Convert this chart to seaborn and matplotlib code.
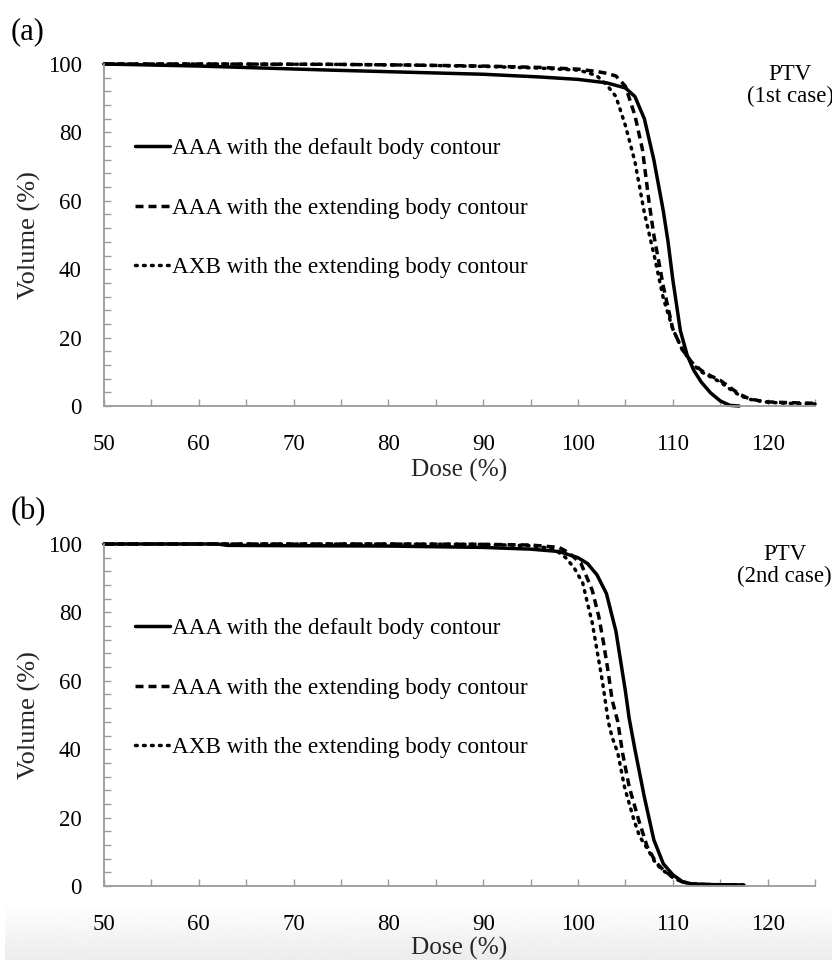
import numpy as np
import pandas as pd
import seaborn as sns
import matplotlib
matplotlib.use("Agg")
import matplotlib.pyplot as plt
from matplotlib.ticker import MultipleLocator

# ---------------- data ----------------
labels = ["AAA with the default body contour",
          "AAA with the extending body contour",
          "AXB with the extending body contour"]

# Panel (a) PTV 1st case
a_def_dose = [50, 55, 60, 67, 74, 82, 90, 96, 100, 103, 105, 106, 107, 108, 109, 109.5, 110, 110.8, 111.5, 112.2, 113, 114, 115, 116, 117]
a_def_vol = [100, 99.7, 99.4, 98.8, 98.2, 97.6, 97.0, 96.2, 95.5, 94.5, 93.0, 90.5, 84.0, 72.0, 57.0, 48.0, 37.0, 22.0, 15.0, 10.5, 7.0, 3.8, 1.5, 0.2, 0.0]

a_ext_dose = [50, 60, 74, 82, 90, 96, 100, 102, 103, 104, 105, 106, 106.8, 107.5, 108, 109, 110, 111, 112, 113, 114, 115, 116, 117, 118, 119, 120, 122, 125]
a_ext_vol = [100, 100, 99.9, 99.7, 99.4, 99.0, 98.5, 97.8, 97.3, 96.5, 93.5, 85.0, 75.0, 59.5, 50.0, 35.0, 22.5, 16.5, 12.8, 10.4, 8.8, 7.5, 5.5, 3.5, 2.2, 1.6, 1.2, 1.0, 0.8]

a_axb_dose = [50, 60, 74, 82, 90, 96, 100, 101, 102, 103, 104, 105, 106, 107, 107.7, 108, 109, 110, 111, 112, 113, 114, 115, 116, 117, 118, 120, 122, 125]
a_axb_vol = [100, 100, 99.9, 99.7, 99.3, 98.8, 98.2, 97.5, 96.5, 94.0, 90.5, 82.0, 71.5, 56.5, 48.0, 44.5, 31.5, 22.5, 16.5, 12.5, 10.0, 8.5, 7.0, 5.0, 3.2, 2.0, 1.1, 0.8, 0.6]

# Panel (b) PTV 2nd case
b_def_dose = [50, 62, 63, 70, 80, 90, 95, 98, 100, 101, 102, 103, 104, 105, 105.4, 106, 107, 108, 109, 110, 111, 112, 114, 117.5]
b_def_vol = [100, 100, 99.6, 99.5, 99.4, 99.0, 98.5, 97.8, 96.0, 94.3, 91.0, 85.5, 74.5, 57.0, 49.0, 40.0, 26.0, 13.5, 6.5, 3.3, 1.3, 0.6, 0.4, 0.3]

b_ext_dose = [50, 60, 70, 80, 90, 95, 98, 99, 100.3, 101.5, 102.2, 102.7, 103.2, 103.6, 104.2, 104.7, 105.4, 106.4, 107.3, 108.2, 109, 110, 111, 112, 114, 117.5]
b_ext_vol = [100, 100, 100, 100, 99.9, 99.7, 99.0, 97.5, 94.4, 86.5, 78.7, 71.0, 62.3, 54.4, 48.0, 38.9, 29.0, 19.3, 11.5, 7.0, 4.7, 2.6, 1.2, 0.6, 0.4, 0.3]

b_axb_dose = [50, 60, 70, 80, 90, 95, 97, 98, 98.7, 99.6, 100.5, 101, 101.5, 102, 102.6, 103.2, 103.6, 104.2, 104.9, 105.9, 106.5, 107.3, 108.2, 109, 110, 111, 112, 114, 117.5]
b_axb_vol = [100, 100, 100, 100, 99.9, 99.5, 98.8, 97.5, 96.0, 93.0, 88.6, 82.7, 77.0, 69.0, 59.4, 48.0, 43.5, 38.9, 29.0, 19.3, 14.5, 11.0, 6.6, 4.5, 2.5, 1.2, 0.6, 0.4, 0.3]

x_ticks = [50, 60, 70, 80, 90, 100, 110, 120]
y_ticks = [0, 20, 40, 60, 80, 100]
case_labels = ["PTV\n(1st case)", "PTV\n(2nd case)"]
panel_labels = ["(a)", "(b)"]

# ---------------- style ----------------
sns.set_theme(style="ticks")
plt.rcParams["font.family"] = ["Liberation Serif", "DejaVu Serif"]
plt.rcParams["text.color"] = "black"

fig = plt.figure(figsize=(8.32, 9.6), dpi=100)
fig.patch.set_facecolor("white")

# faint grey gradient strip at the bottom of the screenshot
bg = fig.add_axes([0.006, 0.0, 0.994, 0.056], zorder=-5)
grad = np.linspace(0.995, 0.925, 64)[:, None]
bg.imshow(grad, cmap="gray", vmin=0, vmax=1, aspect="auto", interpolation="bilinear")
bg.set_axis_off()

styles = ["-", (0, (2.3, 1.45)), (0, (0.5, 1.8))]
LW = 2.5
GRAY = "#9a9a9a"

panels = [
    [(a_def_dose, a_def_vol), (a_ext_dose, a_ext_vol), (a_axb_dose, a_axb_vol)],
    [(b_def_dose, b_def_vol), (b_ext_dose, b_ext_vol), (b_axb_dose, b_axb_vol)],
]
bottoms = [1 - 406 / 960, 1 - 886 / 960]
ax_left = 104 / 832
ax_w = (815 - 104) / 832
ax_h = 342 / 960
case_x = [0.965, 0.957]
xlabel_pad = [3, 1.5]

for i, series in enumerate(panels):
    ax = fig.add_axes([ax_left, bottoms[i], ax_w, ax_h])
    for j, (dose, vol) in enumerate(series):
        df = pd.DataFrame({"Dose": dose, "Volume": vol})
        sns.lineplot(data=df, x="Dose", y="Volume", ax=ax, estimator=None, sort=False,
                     color="black", linewidth=LW, label=labels[j])
        ln = ax.lines[-1]
        ln.set_linestyle(styles[j])
        ln.set_clip_on(False)
        ln.set_dash_capstyle("round" if j == 2 else "butt")
        ln.set_solid_joinstyle("round")
    ax.set_xlim(50, 125)
    ax.set_ylim(0, 100)
    ax.xaxis.set_major_locator(MultipleLocator(10))
    ax.xaxis.set_minor_locator(MultipleLocator(5))
    ax.yaxis.set_major_locator(MultipleLocator(20))
    ax.yaxis.set_minor_locator(MultipleLocator(4))
    ax.set_xticks(x_ticks)
    ax.set_yticks(y_ticks)
    ax.tick_params(axis="both", which="both", direction="in", length=5, width=1,
                   color=GRAY, labelsize=16.5, labelcolor="black")
    ax.tick_params(axis="x", which="major", pad=20)
    ax.tick_params(axis="y", which="major", pad=16)
    for s in ["top", "right"]:
        ax.spines[s].set_visible(False)
    for s in ["left", "bottom"]:
        ax.spines[s].set_color(GRAY)
        ax.spines[s].set_linewidth(1.3)
    ax.set_xlabel("Dose (%)", fontsize=18.2, labelpad=xlabel_pad[i])
    ax.set_ylabel("Volume (%)", fontsize=19, labelpad=5)
    ax.set_facecolor("none")
    leg = ax.legend(loc="upper left", bbox_to_anchor=(0.044, 0.783), frameon=False,
                    fontsize=16.7, handlelength=1.5, handletextpad=0.08,
                    labelspacing=1.65, borderpad=0, borderaxespad=0)
    for h in leg.get_lines():
        h.set_linewidth(LW)
    ax.text(case_x[i], 0.937, case_labels[i], transform=ax.transAxes, ha="center", va="center",
            fontsize=16.5, linespacing=1.05, clip_on=False)
    fig.text(28 / 832, 1 - (32 + 480 * i) / 960, panel_labels[i], fontsize=22,
             ha="center", va="center")

fig.savefig("out.png", dpi=100)
